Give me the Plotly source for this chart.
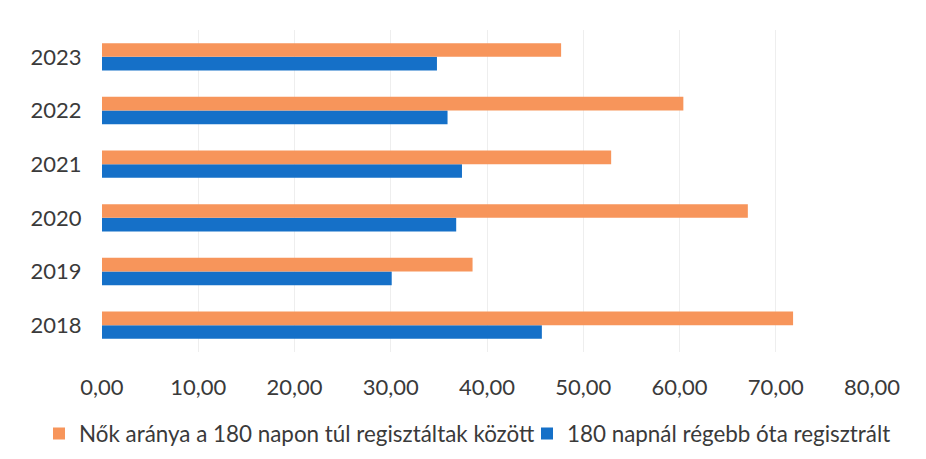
import plotly.graph_objects as go

years = ["2018", "2019", "2020", "2021", "2022", "2023"]
nok_aranya = [71.8, 38.5, 67.1, 52.9, 60.4, 47.7]
regisztralt_180 = [45.7, 30.1, 36.8, 37.4, 35.9, 34.8]
x_ticks = [0, 10, 20, 30, 40, 50, 60, 70, 80]

name_orange = "Nők aránya a 180 napon túl regisztáltak között"
name_blue = "180 napnál régebb óta regisztrált"

ORANGE = "#F7955B"
BLUE = "#1570C8"
FONT = "Lato"
TXT = "#3A3A3A"

W, H = 918, 451

fig = go.Figure()
fig.add_trace(go.Bar(y=years, x=regisztralt_180, orientation="h", name=name_blue,
                     marker=dict(color=BLUE, line=dict(width=0)), legend="legend2"))
fig.add_trace(go.Bar(y=years, x=nok_aranya, orientation="h", name=name_orange,
                     marker=dict(color=ORANGE, line=dict(width=0)), legend="legend"))

leg_common = dict(orientation="h", yanchor="middle", y=1 - 426 / H,
                  xref="container", yref="container", xanchor="left",
                  font=dict(family=FONT, size=22.4, color=TXT), itemwidth=30,
                  bgcolor="rgba(0,0,0,0)")

fig.update_layout(
    width=W, height=H,
    margin=dict(l=94, r=54, t=22, b=107, autoexpand=False),
    paper_bgcolor="white", plot_bgcolor="white",
    barmode="group", bargap=0.49, bargroupgap=0,
    separators=", ",
    font=dict(family=FONT, size=22, color=TXT),
    showlegend=True,
    legend=dict(x=31 / W, **leg_common),
    legend2=dict(x=519 / W, **leg_common),
)
fig.update_xaxes(range=[0, 80], tickvals=x_ticks, tickformat=".2f",
                 showgrid=True, gridcolor="#EEEEEE", gridwidth=1,
                 zeroline=False, showline=False,
                 tickfont=dict(family=FONT, size=22, color=TXT),
                 ticks="outside", ticklen=16, tickcolor="white")
fig.update_yaxes(type="category", showgrid=False, zeroline=False, showline=False,
                 tickfont=dict(family=FONT, size=22, color=TXT),
                 ticks="outside", ticklen=15, tickcolor="white")

fig.write_html("out.html")
